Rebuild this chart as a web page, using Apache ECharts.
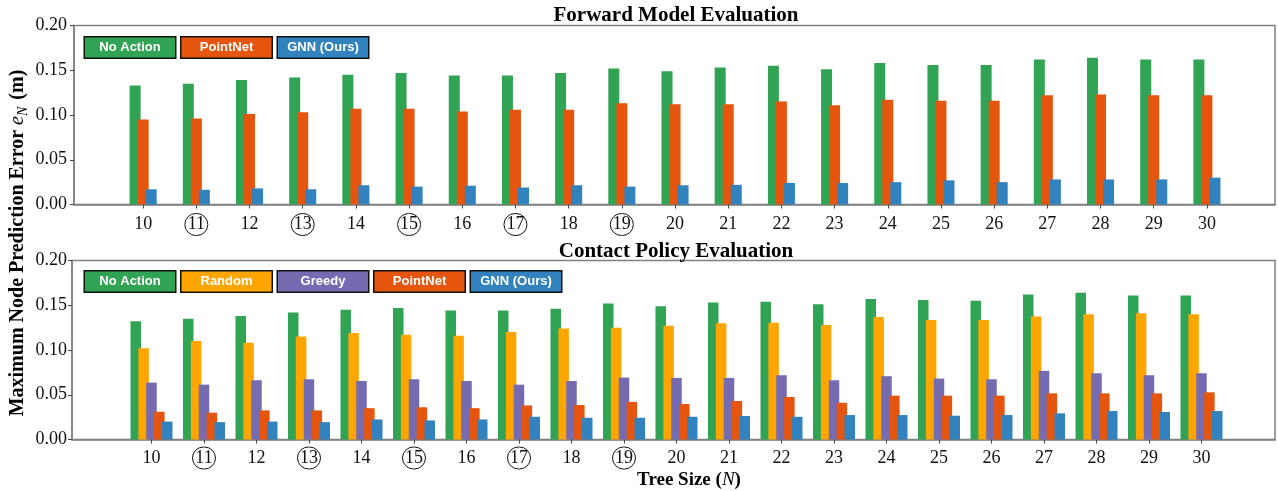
<!DOCTYPE html>
<html>
<head>
<meta charset="utf-8">
<script src="https://cdn.jsdelivr.net/npm/echarts@6/dist/echarts.min.js"></script>
<style>
html,body{margin:0;padding:0;background:#fff;}
#chart{width:1278px;height:491px;}
</style>
</head>
<body>
<div id="chart"></div>
<script>
const categories = [10,11,12,13,14,15,16,17,18,19,20,21,22,23,24,25,26,27,28,29,30];
const circled = [11,13,15,17,19];
const yTicks = [0, 0.05, 0.10, 0.15, 0.20];

const fwdNoAction = [0.133,0.135,0.139,0.142,0.145,0.147,0.144,0.144,0.147,0.152,0.149,0.153,0.155,0.151,0.158,0.156,0.156,0.162,0.164,0.162,0.162];
const fwdPointNet = [0.095,0.096,0.101,0.103,0.107,0.107,0.104,0.106,0.106,0.113,0.112,0.112,0.115,0.111,0.117,0.116,0.116,0.122,0.123,0.122,0.122];
const fwdGNN      = [0.017,0.0165,0.018,0.017,0.0215,0.020,0.021,0.019,0.0215,0.020,0.0215,0.022,0.024,0.024,0.025,0.027,0.025,0.028,0.028,0.028,0.030];

const cpNoAction = [0.132,0.135,0.138,0.142,0.145,0.147,0.144,0.144,0.146,0.152,0.149,0.153,0.154,0.151,0.157,0.156,0.155,0.162,0.164,0.161,0.161];
const cpRandom   = [0.102,0.110,0.108,0.115,0.119,0.117,0.116,0.120,0.124,0.125,0.127,0.130,0.1305,0.128,0.137,0.1335,0.1335,0.1375,0.140,0.141,0.140];
const cpGreedy   = [0.0636,0.0613,0.0662,0.0673,0.0654,0.0673,0.0654,0.0613,0.0654,0.0692,0.0688,0.0688,0.0718,0.0662,0.0707,0.0681,0.0673,0.0767,0.074,0.0718,0.074];
const cpPointNet = [0.031,0.030,0.0325,0.0325,0.035,0.036,0.035,0.038,0.0385,0.042,0.0396,0.043,0.0475,0.041,0.049,0.049,0.049,0.0516,0.0516,0.0516,0.0527];
const cpGNN      = [0.020,0.0194,0.020,0.0194,0.0224,0.0213,0.0224,0.0254,0.0243,0.0243,0.0254,0.0262,0.0254,0.0273,0.0273,0.0266,0.0273,0.0292,0.0318,0.0307,0.0318];

const topNames = ['No Action','PointNet','GNN (Ours)'];
const bottomNames = ['No Action','Random','Greedy','PointNet','GNN (Ours)'];

const C = {
  'No Action': '#31a354',
  'Random': '#ffa500',
  'Greedy': '#756bb1',
  'PointNet': '#e6550d',
  'GNN (Ours)': '#3182bd'
};
const legendKey = {'No Action':'na','Random':'rd','Greedy':'gr','PointNet':'pn','GNN (Ours)':'gn'};

const SERIF = '"Liberation Serif","Times New Roman",serif';
const SANS = '"Liberation Sans",Arial,sans-serif';
const AXIS_COLOR = '#808080';

function pairs(vals){ return categories.map((c,i)=>[c, vals[i]]); }

function legendRich(){
  const base = {color:'#fff', fontWeight:'bold', fontSize:13, fontFamily:SANS,
    width:84, height:16, lineHeight:16, align:'center', padding:[2,3,2,3],
    borderColor:'#111', borderWidth:1.5};
  const r = {};
  Object.keys(legendKey).forEach(n=>{ r[legendKey[n]] = Object.assign({}, base, {backgroundColor:C[n]}); });
  return r;
}

function xAxis(gridIndex, min, max, margin){
  return {
    type:'value', gridIndex, min, max,
    axisLine:{show:true, lineStyle:{color:AXIS_COLOR, width:1.5}},
    axisTick:{show:true, length:4, customValues:categories, lineStyle:{color:'#444'}},
    splitLine:{show:false},
    axisLabel:{
      customValues:categories, margin,
      formatter: v => (circled.indexOf(v) >= 0 ? '{c|' + v + '}' : '{n|' + v + '}'),
      rich:{
        n:{fontFamily:SERIF, fontSize:18, color:'#111', height:22, lineHeight:22},
        c:{fontFamily:SERIF, fontSize:18, color:'#111', width:23, height:22, lineHeight:22, align:'center',
           borderColor:'#111', borderWidth:1, borderRadius:11}
      }
    }
  };
}
function yAxis(gridIndex, margin){
  return {
    type:'value', gridIndex, min:0, max:0.2, interval:0.05,
    axisLine:{show:true, lineStyle:{color:AXIS_COLOR, width:1.5}},
    axisTick:{show:true, length:4, customValues:yTicks, lineStyle:{color:'#444'}},
    splitLine:{show:false},
    axisLabel:{customValues:yTicks, margin, fontFamily:SERIF, fontSize:18, color:'#111',
      formatter: v => v.toFixed(2)}
  };
}

function barSeries(name, vals, idx, width, gap){
  return {
    type:'bar', name, xAxisIndex:idx, yAxisIndex:idx,
    data: pairs(vals), barWidth:width, barGap:gap,
    itemStyle:{color:C[name]},
    emphasis:{disabled:true}
  };
}

const chart = echarts.init(document.getElementById('chart'), null, {renderer:'canvas'});
const option = {
  animation:false,
  backgroundColor:'#fff',
  title:[
    {text:'Forward Model Evaluation', left:676, top:5, textAlign:'center', padding:0,
     textStyle:{fontFamily:SERIF, fontSize:21, fontWeight:'bold', color:'#000'}},
    {text:'Contact Policy Evaluation', left:676, top:241, textAlign:'center', padding:0,
     textStyle:{fontFamily:SERIF, fontSize:21, fontWeight:'bold', color:'#000'}}
  ],
  legend:[
    {left:80, top:36, orient:'horizontal', itemWidth:0, itemHeight:0, itemGap:0, padding:0,
     data:topNames, selectedMode:false,
     formatter: n => '{' + legendKey[n] + '|' + n + '}',
     textStyle:{rich:legendRich()}},
    {left:80, top:270, orient:'horizontal', itemWidth:0, itemHeight:0, itemGap:0, padding:0,
     data:bottomNames, selectedMode:false,
     formatter: n => '{' + legendKey[n] + '|' + n + '}',
     textStyle:{rich:legendRich()}}
  ],
  grid:[
    {left:74, top:25.5, width:1201, height:179, show:true, borderColor:AXIS_COLOR, borderWidth:1.5, containLabel:false},
    {left:72, top:260.5, width:1203, height:179, show:true, borderColor:AXIS_COLOR, borderWidth:1.5, containLabel:false}
  ],
  xAxis:[ xAxis(0, 8.7, 31.28, 9), xAxis(1, 8.486, 31.4, 7.5) ],
  yAxis:[ yAxis(0, 7), yAxis(1, 5) ],
  graphic:[
    {type:'text', x:18, y:243, rotation:Math.PI/2,
     style:{text:'{b|Maximum Node Prediction Error }{i|e}{s|N}{b| (m)}', align:'center', verticalAlign:'middle',
       rich:{
         b:{fontFamily:SERIF, fontSize:20, fontWeight:'bold', fill:'#000', lineHeight:24},
         i:{fontFamily:SERIF, fontSize:20, fontStyle:'italic', fill:'#000', lineHeight:24},
         s:{fontFamily:SERIF, fontSize:14, fontStyle:'italic', fill:'#000', lineHeight:24, padding:[10,2,0,0]}
       }}},
    {type:'text', x:689, y:480,
     style:{text:'{b|Tree Size (}{i|N}{b|)}', align:'center', verticalAlign:'middle',
       rich:{
         b:{fontFamily:SERIF, fontSize:19, fontWeight:'bold', fill:'#000'},
         i:{fontFamily:SERIF, fontSize:19, fontStyle:'italic', fill:'#000'}
       }}}
  ],
  series:[
    barSeries('No Action', fwdNoAction, 0, 11, '-27%'),
    barSeries('PointNet', fwdPointNet, 0, 11, '-27%'),
    barSeries('GNN (Ours)', fwdGNN, 0, 11, '-27%'),
    barSeries('No Action', cpNoAction, 1, 10.5, '-25%'),
    barSeries('Random', cpRandom, 1, 10.5, '-25%'),
    barSeries('Greedy', cpGreedy, 1, 10.5, '-25%'),
    barSeries('PointNet', cpPointNet, 1, 10.5, '-25%'),
    barSeries('GNN (Ours)', cpGNN, 1, 10.5, '-25%')
  ]
};
chart.setOption(option);
</script>
</body>
</html>
